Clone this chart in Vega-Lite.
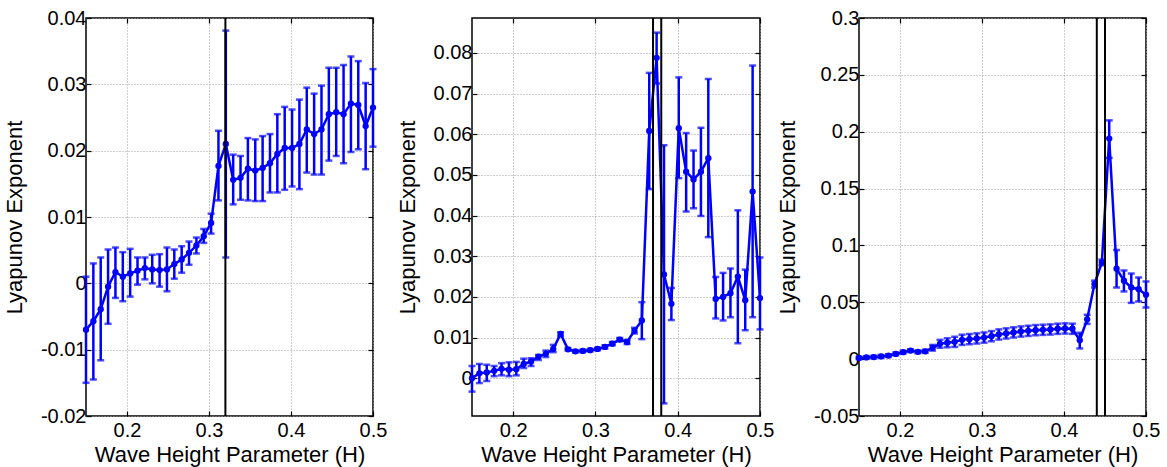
{
"$schema": "https://vega.github.io/schema/vega-lite/v6.json",
"padding": {"left": 2, "top": 7, "right": 5, "bottom": 3},
"background": "white",
"spacing": 99,
"bounds": "flush",
"datasets": {
"pts": [
{"p":1,"x":0.15,"y":-0.0070,"lo":-0.0150,"hi":0.0010},
{"p":1,"x":0.15897,"y":-0.0057,"lo":-0.0145,"hi":0.0030},
{"p":1,"x":0.16795,"y":-0.0039,"lo":-0.0116,"hi":0.0039},
{"p":1,"x":0.17692,"y":-0.0005,"lo":-0.0061,"hi":0.0051},
{"p":1,"x":0.1859,"y":0.0017,"lo":-0.0022,"hi":0.0054},
{"p":1,"x":0.19487,"y":0.0010,"lo":-0.0027,"hi":0.0047},
{"p":1,"x":0.20385,"y":0.0015,"lo":-0.0020,"hi":0.0052},
{"p":1,"x":0.21282,"y":0.0019,"lo":-0.0002,"hi":0.0039},
{"p":1,"x":0.22179,"y":0.0023,"lo":0.0006,"hi":0.0039},
{"p":1,"x":0.23077,"y":0.0021,"lo":0.0000,"hi":0.0043},
{"p":1,"x":0.23974,"y":0.0020,"lo":-0.0005,"hi":0.0044},
{"p":1,"x":0.24872,"y":0.0021,"lo":-0.0012,"hi":0.0054},
{"p":1,"x":0.25769,"y":0.0029,"lo":0.0007,"hi":0.0051},
{"p":1,"x":0.26667,"y":0.0036,"lo":0.0016,"hi":0.0056},
{"p":1,"x":0.27564,"y":0.0046,"lo":0.0028,"hi":0.0063},
{"p":1,"x":0.28462,"y":0.0057,"lo":0.0045,"hi":0.0069},
{"p":1,"x":0.29359,"y":0.0071,"lo":0.0061,"hi":0.0082},
{"p":1,"x":0.30256,"y":0.0091,"lo":0.0075,"hi":0.0105},
{"p":1,"x":0.31154,"y":0.0177,"lo":0.0125,"hi":0.0230},
{"p":1,"x":0.32051,"y":0.0210,"lo":0.0039,"hi":0.0381},
{"p":1,"x":0.32949,"y":0.0156,"lo":0.0119,"hi":0.0194},
{"p":1,"x":0.33846,"y":0.0159,"lo":0.0126,"hi":0.0192},
{"p":1,"x":0.34744,"y":0.0173,"lo":0.0125,"hi":0.0219},
{"p":1,"x":0.35641,"y":0.0170,"lo":0.0124,"hi":0.0217},
{"p":1,"x":0.36538,"y":0.0174,"lo":0.0124,"hi":0.0222},
{"p":1,"x":0.37436,"y":0.0181,"lo":0.0137,"hi":0.0225},
{"p":1,"x":0.38333,"y":0.0195,"lo":0.0137,"hi":0.0255},
{"p":1,"x":0.39231,"y":0.0204,"lo":0.0141,"hi":0.0266},
{"p":1,"x":0.40128,"y":0.0204,"lo":0.0146,"hi":0.0262},
{"p":1,"x":0.41026,"y":0.0210,"lo":0.0142,"hi":0.0277},
{"p":1,"x":0.41923,"y":0.0232,"lo":0.0167,"hi":0.0295},
{"p":1,"x":0.42821,"y":0.0225,"lo":0.0164,"hi":0.0286},
{"p":1,"x":0.43718,"y":0.0232,"lo":0.0164,"hi":0.0298},
{"p":1,"x":0.44615,"y":0.0255,"lo":0.0185,"hi":0.0325},
{"p":1,"x":0.45513,"y":0.0258,"lo":0.0192,"hi":0.0325},
{"p":1,"x":0.4641,"y":0.0255,"lo":0.0181,"hi":0.0329},
{"p":1,"x":0.47308,"y":0.0271,"lo":0.0198,"hi":0.0342},
{"p":1,"x":0.48205,"y":0.0269,"lo":0.0202,"hi":0.0335},
{"p":1,"x":0.49103,"y":0.0237,"lo":0.0172,"hi":0.0302},
{"p":1,"x":0.5,"y":0.0265,"lo":0.0206,"hi":0.0323},
{"p":2,"x":0.15,"y":0.0000,"lo":-0.0033,"hi":0.0030},
{"p":2,"x":0.15897,"y":0.0012,"lo":-0.0012,"hi":0.0035},
{"p":2,"x":0.16795,"y":0.0014,"lo":-0.0007,"hi":0.0033},
{"p":2,"x":0.17692,"y":0.0018,"lo":0.0005,"hi":0.0030},
{"p":2,"x":0.1859,"y":0.0023,"lo":0.0007,"hi":0.0037},
{"p":2,"x":0.19487,"y":0.0021,"lo":0.0005,"hi":0.0039},
{"p":2,"x":0.20385,"y":0.0022,"lo":0.0007,"hi":0.0040},
{"p":2,"x":0.21282,"y":0.0035,"lo":0.0025,"hi":0.0048},
{"p":2,"x":0.22179,"y":0.0041,"lo":0.0030,"hi":0.0049},
{"p":2,"x":0.23077,"y":0.0053,"lo":0.0045,"hi":0.0057},
{"p":2,"x":0.23974,"y":0.0060,"lo":0.0052,"hi":0.0068},
{"p":2,"x":0.24872,"y":0.0072,"lo":0.0064,"hi":0.0082},
{"p":2,"x":0.25769,"y":0.0109,"lo":0.0103,"hi":0.0113},
{"p":2,"x":0.26667,"y":0.0071,"lo":0.0068,"hi":0.0074},
{"p":2,"x":0.27564,"y":0.0066,"lo":0.0063,"hi":0.0069},
{"p":2,"x":0.28462,"y":0.0067,"lo":0.0064,"hi":0.0070},
{"p":2,"x":0.29359,"y":0.0069,"lo":0.0066,"hi":0.0072},
{"p":2,"x":0.30256,"y":0.0072,"lo":0.0069,"hi":0.0075},
{"p":2,"x":0.31154,"y":0.0077,"lo":0.0073,"hi":0.0081},
{"p":2,"x":0.32051,"y":0.0085,"lo":0.0081,"hi":0.0089},
{"p":2,"x":0.32949,"y":0.0095,"lo":0.0091,"hi":0.0099},
{"p":2,"x":0.33846,"y":0.0089,"lo":0.0084,"hi":0.0094},
{"p":2,"x":0.34744,"y":0.0117,"lo":0.0110,"hi":0.0124},
{"p":2,"x":0.35641,"y":0.0142,"lo":0.0096,"hi":0.0187},
{"p":2,"x":0.36538,"y":0.0608,"lo":0.0465,"hi":0.0751},
{"p":2,"x":0.37436,"y":0.0788,"lo":0.0725,"hi":0.0850},
{"p":2,"x":0.38333,"y":0.0255,"lo":-0.0062,"hi":0.0573},
{"p":2,"x":0.39231,"y":0.0183,"lo":0.0143,"hi":0.0222},
{"p":2,"x":0.40128,"y":0.0615,"lo":0.0492,"hi":0.0740},
{"p":2,"x":0.41026,"y":0.0508,"lo":0.0410,"hi":0.0603},
{"p":2,"x":0.41923,"y":0.0489,"lo":0.0418,"hi":0.0560},
{"p":2,"x":0.42821,"y":0.0508,"lo":0.0399,"hi":0.0616},
{"p":2,"x":0.43718,"y":0.0541,"lo":0.0347,"hi":0.0736},
{"p":2,"x":0.44615,"y":0.0195,"lo":0.0147,"hi":0.0249},
{"p":2,"x":0.45513,"y":0.0200,"lo":0.0142,"hi":0.0259},
{"p":2,"x":0.4641,"y":0.0209,"lo":0.0150,"hi":0.0270},
{"p":2,"x":0.47308,"y":0.0250,"lo":0.0086,"hi":0.0413},
{"p":2,"x":0.48205,"y":0.0192,"lo":0.0118,"hi":0.0267},
{"p":2,"x":0.49103,"y":0.0459,"lo":0.0150,"hi":0.0769},
{"p":2,"x":0.5,"y":0.0197,"lo":0.0120,"hi":0.0297},
{"p":3,"x":0.15,"y":0.0010,"lo":0.0000,"hi":0.0020},
{"p":3,"x":0.15897,"y":0.0015,"lo":0.0004,"hi":0.0026},
{"p":3,"x":0.16795,"y":0.0018,"lo":0.0006,"hi":0.0030},
{"p":3,"x":0.17692,"y":0.0024,"lo":0.0012,"hi":0.0036},
{"p":3,"x":0.1859,"y":0.0031,"lo":0.0019,"hi":0.0043},
{"p":3,"x":0.19487,"y":0.0046,"lo":0.0034,"hi":0.0058},
{"p":3,"x":0.20385,"y":0.0061,"lo":0.0049,"hi":0.0073},
{"p":3,"x":0.21282,"y":0.0075,"lo":0.0063,"hi":0.0087},
{"p":3,"x":0.22179,"y":0.0064,"lo":0.0052,"hi":0.0076},
{"p":3,"x":0.23077,"y":0.0069,"lo":0.0055,"hi":0.0083},
{"p":3,"x":0.23974,"y":0.0100,"lo":0.0075,"hi":0.0125},
{"p":3,"x":0.24872,"y":0.0135,"lo":0.0100,"hi":0.0170},
{"p":3,"x":0.25769,"y":0.0144,"lo":0.0104,"hi":0.0184},
{"p":3,"x":0.26667,"y":0.0152,"lo":0.0107,"hi":0.0197},
{"p":3,"x":0.27564,"y":0.0170,"lo":0.0125,"hi":0.0215},
{"p":3,"x":0.28462,"y":0.0176,"lo":0.0131,"hi":0.0221},
{"p":3,"x":0.29359,"y":0.0182,"lo":0.0137,"hi":0.0227},
{"p":3,"x":0.30256,"y":0.0190,"lo":0.0145,"hi":0.0235},
{"p":3,"x":0.31154,"y":0.0202,"lo":0.0157,"hi":0.0247},
{"p":3,"x":0.32051,"y":0.0217,"lo":0.0172,"hi":0.0262},
{"p":3,"x":0.32949,"y":0.0226,"lo":0.0181,"hi":0.0271},
{"p":3,"x":0.33846,"y":0.0235,"lo":0.0190,"hi":0.0280},
{"p":3,"x":0.34744,"y":0.0243,"lo":0.0198,"hi":0.0288},
{"p":3,"x":0.35641,"y":0.0249,"lo":0.0204,"hi":0.0294},
{"p":3,"x":0.36538,"y":0.0255,"lo":0.0210,"hi":0.0300},
{"p":3,"x":0.37436,"y":0.0258,"lo":0.0213,"hi":0.0303},
{"p":3,"x":0.38333,"y":0.0261,"lo":0.0216,"hi":0.0306},
{"p":3,"x":0.39231,"y":0.0267,"lo":0.0222,"hi":0.0312},
{"p":3,"x":0.40128,"y":0.0270,"lo":0.0225,"hi":0.0315},
{"p":3,"x":0.41026,"y":0.0267,"lo":0.0222,"hi":0.0312},
{"p":3,"x":0.41923,"y":0.0167,"lo":0.0094,"hi":0.0232},
{"p":3,"x":0.42821,"y":0.0350,"lo":0.0310,"hi":0.0390},
{"p":3,"x":0.43718,"y":0.0660,"lo":0.0630,"hi":0.0690},
{"p":3,"x":0.44615,"y":0.0850,"lo":0.0825,"hi":0.0875},
{"p":3,"x":0.45513,"y":0.1940,"lo":0.1770,"hi":0.2100},
{"p":3,"x":0.4641,"y":0.0796,"lo":0.0630,"hi":0.0959},
{"p":3,"x":0.47308,"y":0.0690,"lo":0.0595,"hi":0.0780},
{"p":3,"x":0.48205,"y":0.0630,"lo":0.0495,"hi":0.0753},
{"p":3,"x":0.49103,"y":0.0615,"lo":0.0507,"hi":0.0718},
{"p":3,"x":0.5,"y":0.0566,"lo":0.0454,"hi":0.0683}
],
"vl": [
{"p":1,"v":0.32},
{"p":2,"v":0.37},
{"p":2,"v":0.38},
{"p":3,"v":0.44},
{"p":3,"v":0.45}
]
},
"hconcat": [
{
"width": 287, "height": 398,
"data": {"name": "pts"},
"transform": [{"filter": "datum.p == 1"}],
"resolve": {"axis": {"x": "independent", "y": "independent"}},
"layer": [
{"mark": {"type": "rule", "color": "#0000FF", "strokeWidth": 2.5},
 "encoding": {
  "x": {"field": "x", "type": "quantitative", "scale": {"domain": [0.15, 0.5], "nice": false, "zero": false}, "axis": {"values": [0.2, 0.3, 0.4, 0.5], "format": ".1f", "title": "Wave Height Parameter (H)", "labelFlush": false, "grid": true}},
  "y": {"field": "lo", "type": "quantitative", "scale": {"domain": [-0.02, 0.04], "nice": false, "zero": false}, "axis": {"values": [-0.02, -0.01, 0, 0.01, 0.02, 0.03, 0.04], "format": ".2~f", "title": "Lyapunov Exponent", "grid": true}},
  "y2": {"field": "hi"}}},
{"mark": {"type": "tick", "orient": "horizontal", "color": "#0000FF", "size": 7, "thickness": 2.5},
 "encoding": {
  "x": {"field": "x", "type": "quantitative", "scale": {"domain": [0.15, 0.5], "nice": false, "zero": false}, "axis": null},
  "y": {"field": "lo", "type": "quantitative", "scale": {"domain": [-0.02, 0.04], "nice": false, "zero": false}, "axis": null}}},
{"mark": {"type": "tick", "orient": "horizontal", "color": "#0000FF", "size": 7, "thickness": 2.5},
 "encoding": {
  "x": {"field": "x", "type": "quantitative", "scale": {"domain": [0.15, 0.5], "nice": false, "zero": false}, "axis": {"orient": "top", "labels": false, "title": null, "grid": false, "values": [0.2, 0.3, 0.4, 0.5]}},
  "y": {"field": "hi", "type": "quantitative", "scale": {"domain": [-0.02, 0.04], "nice": false, "zero": false}, "axis": {"orient": "right", "labels": false, "title": null, "grid": false, "values": [-0.02, -0.01, 0, 0.01, 0.02, 0.03, 0.04]}}}},
{"mark": {"type": "line", "color": "#0000FF", "strokeWidth": 2.5, "point": {"filled": true, "size": 40, "color": "#0000FF"}},
 "encoding": {
  "x": {"field": "x", "type": "quantitative", "scale": {"domain": [0.15, 0.5], "nice": false, "zero": false}, "axis": null},
  "y": {"field": "y", "type": "quantitative", "scale": {"domain": [-0.02, 0.04], "nice": false, "zero": false}, "axis": null}}},
{"data": {"name": "vl"}, "transform": [{"filter": "datum.p == 1"}],
 "mark": {"type": "rule", "color": "#000000", "strokeWidth": 2},
 "encoding": {"x": {"field": "v", "type": "quantitative", "scale": {"domain": [0.15, 0.5], "nice": false, "zero": false}, "axis": null}}}
]
},
{
"width": 288, "height": 398,
"data": {"name": "pts"},
"transform": [{"filter": "datum.p == 2"}],
"resolve": {"axis": {"x": "independent", "y": "independent"}},
"layer": [
{"mark": {"type": "rule", "color": "#0000FF", "strokeWidth": 2.5},
 "encoding": {
  "x": {"field": "x", "type": "quantitative", "scale": {"domain": [0.15, 0.5], "nice": false, "zero": false}, "axis": {"values": [0.2, 0.3, 0.4, 0.5], "format": ".1f", "title": "Wave Height Parameter (H)", "labelFlush": false, "grid": true}},
  "y": {"field": "lo", "type": "quantitative", "scale": {"domain": [-0.0093, 0.0886], "nice": false, "zero": false}, "axis": {"values": [0, 0.01, 0.02, 0.03, 0.04, 0.05, 0.06, 0.07, 0.08], "format": ".2~f", "title": "Lyapunov Exponent", "grid": true}},
  "y2": {"field": "hi"}}},
{"mark": {"type": "tick", "orient": "horizontal", "color": "#0000FF", "size": 7, "thickness": 2.5},
 "encoding": {
  "x": {"field": "x", "type": "quantitative", "scale": {"domain": [0.15, 0.5], "nice": false, "zero": false}, "axis": null},
  "y": {"field": "lo", "type": "quantitative", "scale": {"domain": [-0.0093, 0.0886], "nice": false, "zero": false}, "axis": null}}},
{"mark": {"type": "tick", "orient": "horizontal", "color": "#0000FF", "size": 7, "thickness": 2.5},
 "encoding": {
  "x": {"field": "x", "type": "quantitative", "scale": {"domain": [0.15, 0.5], "nice": false, "zero": false}, "axis": {"orient": "top", "labels": false, "title": null, "grid": false, "values": [0.2, 0.3, 0.4, 0.5]}},
  "y": {"field": "hi", "type": "quantitative", "scale": {"domain": [-0.0093, 0.0886], "nice": false, "zero": false}, "axis": {"orient": "right", "labels": false, "title": null, "grid": false, "values": [0, 0.01, 0.02, 0.03, 0.04, 0.05, 0.06, 0.07, 0.08]}}}},
{"mark": {"type": "line", "color": "#0000FF", "strokeWidth": 2.5, "point": {"filled": true, "size": 40, "color": "#0000FF"}},
 "encoding": {
  "x": {"field": "x", "type": "quantitative", "scale": {"domain": [0.15, 0.5], "nice": false, "zero": false}, "axis": null},
  "y": {"field": "y", "type": "quantitative", "scale": {"domain": [-0.0093, 0.0886], "nice": false, "zero": false}, "axis": null}}},
{"data": {"name": "vl"}, "transform": [{"filter": "datum.p == 2"}],
 "mark": {"type": "rule", "color": "#000000", "strokeWidth": 2},
 "encoding": {"x": {"field": "v", "type": "quantitative", "scale": {"domain": [0.15, 0.5], "nice": false, "zero": false}, "axis": null}}}
]
},
{
"width": 287, "height": 398,
"data": {"name": "pts"},
"transform": [{"filter": "datum.p == 3"}],
"resolve": {"axis": {"x": "independent", "y": "independent"}},
"layer": [
{"mark": {"type": "rule", "color": "#0000FF", "strokeWidth": 2.5},
 "encoding": {
  "x": {"field": "x", "type": "quantitative", "scale": {"domain": [0.15, 0.5], "nice": false, "zero": false}, "axis": {"values": [0.2, 0.3, 0.4, 0.5], "format": ".1f", "title": "Wave Height Parameter (H)", "labelFlush": false, "grid": true}},
  "y": {"field": "lo", "type": "quantitative", "scale": {"domain": [-0.05, 0.3], "nice": false, "zero": false}, "axis": {"values": [-0.05, 0, 0.05, 0.1, 0.15, 0.2, 0.25, 0.3], "format": ".2~f", "title": "Lyapunov Exponent", "grid": true}},
  "y2": {"field": "hi"}}},
{"mark": {"type": "tick", "orient": "horizontal", "color": "#0000FF", "size": 7, "thickness": 2.5},
 "encoding": {
  "x": {"field": "x", "type": "quantitative", "scale": {"domain": [0.15, 0.5], "nice": false, "zero": false}, "axis": null},
  "y": {"field": "lo", "type": "quantitative", "scale": {"domain": [-0.05, 0.3], "nice": false, "zero": false}, "axis": null}}},
{"mark": {"type": "tick", "orient": "horizontal", "color": "#0000FF", "size": 7, "thickness": 2.5},
 "encoding": {
  "x": {"field": "x", "type": "quantitative", "scale": {"domain": [0.15, 0.5], "nice": false, "zero": false}, "axis": {"orient": "top", "labels": false, "title": null, "grid": false, "values": [0.2, 0.3, 0.4, 0.5]}},
  "y": {"field": "hi", "type": "quantitative", "scale": {"domain": [-0.05, 0.3], "nice": false, "zero": false}, "axis": {"orient": "right", "labels": false, "title": null, "grid": false, "values": [-0.05, 0, 0.05, 0.1, 0.15, 0.2, 0.25, 0.3]}}}},
{"mark": {"type": "line", "color": "#0000FF", "strokeWidth": 2.5, "point": {"filled": true, "size": 40, "color": "#0000FF"}},
 "encoding": {
  "x": {"field": "x", "type": "quantitative", "scale": {"domain": [0.15, 0.5], "nice": false, "zero": false}, "axis": null},
  "y": {"field": "y", "type": "quantitative", "scale": {"domain": [-0.05, 0.3], "nice": false, "zero": false}, "axis": null}}},
{"data": {"name": "vl"}, "transform": [{"filter": "datum.p == 3"}],
 "mark": {"type": "rule", "color": "#000000", "strokeWidth": 2},
 "encoding": {"x": {"field": "v", "type": "quantitative", "scale": {"domain": [0.15, 0.5], "nice": false, "zero": false}, "axis": null}}}
]
}
],
"config": {
 "locale": {"number": {"decimal": ".", "thousands": ",", "grouping": [3], "currency": ["$", ""], "minus": "-"}},
 "view": {"stroke": "#000000", "strokeWidth": 1.5},
 "axis": {
  "labelFont": "Liberation Sans", "titleFont": "Liberation Sans",
  "labelFontSize": 20, "titleFontSize": 22, "titleFontWeight": "normal",
  "labelColor": "#000000", "titleColor": "#000000",
  "domain": false, "tickColor": "#000000", "tickSize": -5, "tickWidth": 1.2,
  "gridColor": "#a0a0a0", "gridDash": [1, 2], "gridWidth": 1,
  "labelPadding": 5, "titlePadding": 14
 },
 "axisX": {"labelPadding": 9, "titlePadding": 4}
}
}
